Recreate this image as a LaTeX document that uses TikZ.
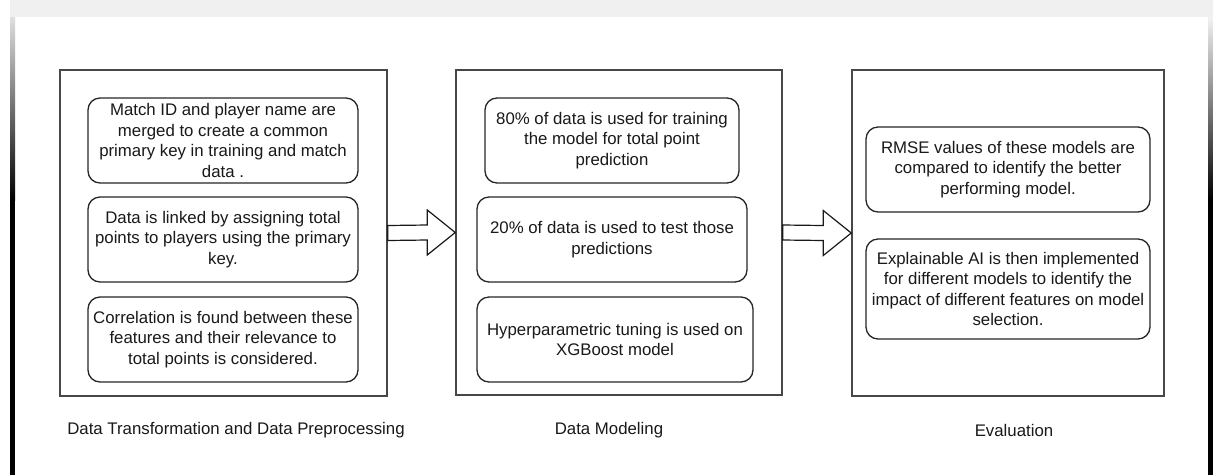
\documentclass[tikz,border=0pt]{standalone}
\usepackage{fontspec}
\setmainfont{Liberation Sans}
\usetikzlibrary{calc}
\tikzset{
  panel/.style={draw=black!72, line width=1.5pt, inner sep=0pt},
  card/.style={draw=black!85, line width=1.3pt, rounded corners=12pt, align=center,
    inner sep=0pt, text=black!90, font=\fontsize{16.8}{20.5}\selectfont},
  lbl/.style={text=black!90, font=\fontsize{16.8}{20.5}\selectfont, inner sep=0pt},
  blockarrow/.style={draw=black!90, line width=1.2pt, fill=white, line join=miter}
}
\begin{document}
\begin{tikzpicture}[x=1pt,y=-1pt]
\useasboundingbox (0,0) rectangle (1213,475);
\fill[white] (0,0) rectangle (1213,475);
% screenshot frame
\fill[gray!12] (10,0) rectangle (1213,17);
\shade[top color=gray!25, bottom color=black] (10,17) rectangle (15,200);
\fill[black] (10,200) rectangle (15,475);
\shade[top color=gray!10, bottom color=black] (1208,17) rectangle (1213,200);
\fill[black] (1208,200) rectangle (1213,475);

% panels
\node[panel, minimum width=327pt, minimum height=326pt] (P1) at (223.5,233) {};
\node[panel, minimum width=326pt, minimum height=325pt] (P2) at (619,232.5) {};
\node[panel, minimum width=312pt, minimum height=326pt] (P3) at (1008,233) {};

% left cards
\node[card, minimum width=270pt, minimum height=85pt] (a1) at (223,140.5)
  {Match ID and player name are\\merged to create a common\\primary key in training and match\\data .};
\node[card, minimum width=270pt, minimum height=85pt] (a2) at (223,239.5)
  {Data is linked by assigning total\\points to players using the primary\\key.};
\node[card, minimum width=270pt, minimum height=85pt] (a3) at (223,339.5)
  {Correlation is found between these\\features and their relevance to\\total points is considered.};

% middle cards
\node[card, minimum width=254pt, minimum height=85pt] (b1) at (612,140.5)
  {80\% of data is used for training\\the model for total point\\prediction};
\node[card, minimum width=270pt, minimum height=85pt] (b2) at (612,239.5)
  {20\% of data is used to test those\\predictions};
\node[card, minimum width=276pt, minimum height=85pt] (b3) at (615,339.5)
  {Hyperparametric tuning is used on\\XGBoost model};

% right cards
\node[card, minimum width=284pt, minimum height=85pt] (c1) at (1008,169.5)
  {RMSE values of these models are\\compared to identify the better\\performing model.};
\node[card, minimum width=284pt, minimum height=100pt] (c2) at (1008,289)
  {Explainable AI is then implemented\\for different models to identify the\\impact of different features on model\\selection.};

% labels
\node[lbl] (l1) at (236,430) {Data Transformation and Data Preprocessing};
\node[lbl] (l2) at (609,430) {Data Modeling};
\node[lbl] (l3) at (1014,430) {Evaluation};

% block arrows
\draw[blockarrow] ($(P1.east)+(0,-7.5)$) -- ($(P2.west)+(-28,-7.5)$) -- ($(P2.west)+(-28,-22.5)$)
  -- (P2.west) -- ($(P2.west)+(-28,22.5)$) -- ($(P2.west)+(-28,7.5)$) -- ($(P1.east)+(0,7.5)$) -- cycle;
\draw[blockarrow] ($(P2.east)+(0,-7.5)$) -- ($(P3.west)+(-28,-7.5)$) -- ($(P3.west)+(-28,-22.5)$)
  -- (P3.west) -- ($(P3.west)+(-28,22.5)$) -- ($(P3.west)+(-28,7.5)$) -- ($(P2.east)+(0,7.5)$) -- cycle;
\end{tikzpicture}
\end{document}
